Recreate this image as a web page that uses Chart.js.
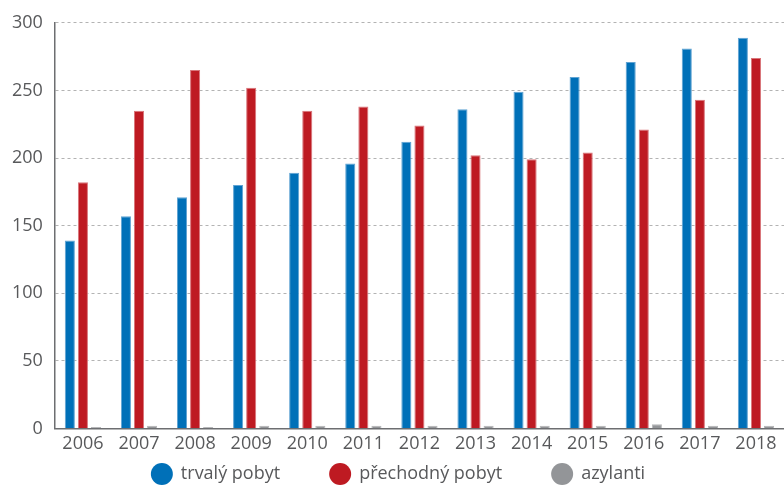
<!DOCTYPE html>
<html>
<head>
<meta charset="utf-8">
<script src="https://cdn.jsdelivr.net/npm/chart.js@4/dist/chart.umd.min.js"></script>
<style>
  html, body { margin: 0; padding: 0; background: #fff; }
  #container { width: 784px; height: 490px; }
</style>
</head>
<body>
<div id="container"><canvas id="app"></canvas></div>
<script>
const years = ['2006','2007','2008','2009','2010','2011','2012','2013','2014','2015','2016','2017','2018']
const trvaly = [139, 157, 171, 180, 189, 196, 212, 236, 249, 260, 271, 281, 289]
const prechodny = [182, 235, 265, 252, 235, 238, 224, 202, 199, 204, 221, 243, 274]
const azylanti = [1, 2, 1, 2, 2, 2, 2, 2, 2, 2, 3, 2, 2]
const seriesNames = ['trvalý pobyt', 'přechodný pobyt', 'azylanti']
const yTicks = [0, 50, 100, 150, 200, 250, 300]

const font = 'Open Sans'
const textColor = '#58595b'

function dataset(label, data, color, border){
  return {
    label: label,
    data: data,
    backgroundColor: color,
    borderColor: border,
    borderWidth: 1,
    categoryPercentage: 0.7,
    barPercentage: 0.77
  }
}

// legend drawn by hand so the items can sit far apart without a tall legend box
const bottomLegend = {
  id: 'bottomLegend',
  afterDraw(chart){
    const ctx = chart.ctx
    const sets = chart.data.datasets
    const r = 11
    const gapText = 8
    const gapItem = 49
    ctx.save()
    ctx.font = '18px "' + font + '"'
    ctx.textBaseline = 'middle'
    let total = 0
    sets.forEach((ds, i) => {
      total += 2 * r + gapText + ctx.measureText(ds.label).width
      if (i < sets.length - 1) total += gapItem
    })
    let x = chart.width / 2 + 6 - total / 2
    const y = 474
    sets.forEach(ds => {
      ctx.fillStyle = ds.backgroundColor
      ctx.beginPath()
      ctx.arc(x + r, y, r, 0, Math.PI * 2)
      ctx.fill()
      x += 2 * r + gapText
      ctx.fillStyle = textColor
      ctx.fillText(ds.label, x, y)
      x += ctx.measureText(ds.label).width + gapItem
    })
    ctx.restore()
  }
}

new Chart(document.getElementById('app'), {
  type: 'bar',
  data: {
    labels: years,
    datasets: [
      dataset(seriesNames[0], trvaly, '#0070b8', '#5fa3d3'),
      dataset(seriesNames[1], prechodny, '#be1a22', '#d9757a'),
      dataset(seriesNames[2], azylanti, '#939598', '#b5b6b8')
    ]
  },
  plugins: [bottomLegend],
  options: {
    responsive: true,
    maintainAspectRatio: false,
    animation: false,
    layout: { padding: { top: 14, right: 0, left: 0, bottom: 38 } },
    plugins: {
      tooltip: { enabled: false },
      legend: { display: false }
    },
    scales: {
      x: {
        grid: { display: false },
        border: { display: true, color: '#6d6e71', width: 1.5 },
        ticks: { color: textColor, font: { family: font, size: 18 }, padding: -3, maxRotation: 0 }
      },
      y: {
        min: 0,
        max: 300,
        afterBuildTicks: axis => { axis.ticks = yTicks.map(v => ({ value: v })) },
        grid: { color: '#b3b3b3', drawTicks: false, lineWidth: 1 },
        border: { display: true, color: '#6d6e71', width: 1.5, dash: [3, 3] },
        ticks: { color: textColor, font: { family: font, size: 18 }, padding: 12 }
      }
    }
  }
})
</script>
</body>
</html>
